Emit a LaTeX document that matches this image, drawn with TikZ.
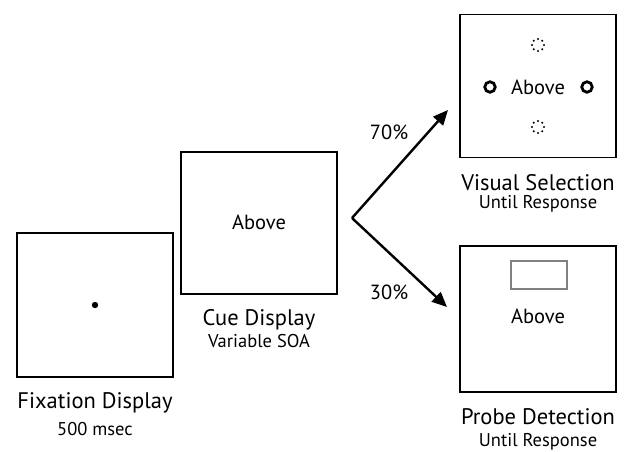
\documentclass[tikz,border=0pt]{standalone}
\usepackage{fontspec}
\setmainfont{PT Sans}
\usetikzlibrary{arrows.meta}
\begin{document}
\begin{tikzpicture}[x=1pt,y=-1pt,
  screen/.style={draw, line width=1.8pt, minimum width=156pt, minimum height=142pt, inner sep=0pt},
  title/.style={font=\fontsize{22.5}{25}\selectfont, inner sep=0pt},
  sub/.style={font=\fontsize{18.5}{21}\selectfont, inner sep=0pt},
  word/.style={font=\fontsize{20.5}{23}\selectfont, inner sep=0pt},
  pct/.style={font=\fontsize{20.5}{23}\selectfont, inner sep=0pt},
  flow/.style={line width=2.4pt, -{Triangle[length=15pt,width=13pt]}},
  ring/.style={circle, draw, line width=2.8pt, minimum size=10.5pt, inner sep=0pt},
]
\useasboundingbox (0,0) rectangle (630,451);
% Fixation
\node[screen, minimum height=144pt] (fix) at (95,305) {};
\fill (95,305) circle (3.2pt);
\node[title] (fixt) at (95,403) {Fixation Display};
\node[sub] (fixs) at (95,429) {500 msec};
% Cue
\node[screen] (cue) at (259,223) {};
\node[word] (cuew) at (259,222) {Above};
\node[title] (cuet) at (259,320) {Cue Display};
\node[sub] (cues) at (259,341) {Variable SOA};
% Visual selection
\node[screen, minimum height=143pt] (vis) at (538,86) {};
\node[word] (visw) at (538,87) {Above};
\node[ring] (rl) at (490,87) {};
\node[ring] (rr) at (587,87) {};
\foreach \a in {0,45,...,315}{
  \fill (538,45) ++(\a:6pt) circle (1.2pt);
  \fill (538,127) ++(\a:6pt) circle (1.2pt);
}
\node[title] (vist) at (538,183) {Visual Selection};
\node[sub] (viss) at (538,204) {Until Response};
% Probe detection
\node[screen, minimum height=146pt] (prb) at (538,319) {};
\node[draw=gray, line width=1.2pt, minimum width=56pt, minimum height=28pt, inner sep=0pt] (probe) at (539,275) {};
\node[word] (prbw) at (538,316) {Above};
\node[title] (prbt) at (538,417) {Probe Detection};
\node[sub] (prbs) at (538,442) {Until Response};
% Arrows
\coordinate (v) at (352,218);
\coordinate (up) at (448,110);
\coordinate (dn) at (447,307);
\draw[flow] (v) -- (up);
\draw[flow] (v) -- (dn);
\node[pct] (p70) at (389,132) {70\%};
\node[pct] (p30) at (389,292) {30\%};
\end{tikzpicture}
\end{document}
